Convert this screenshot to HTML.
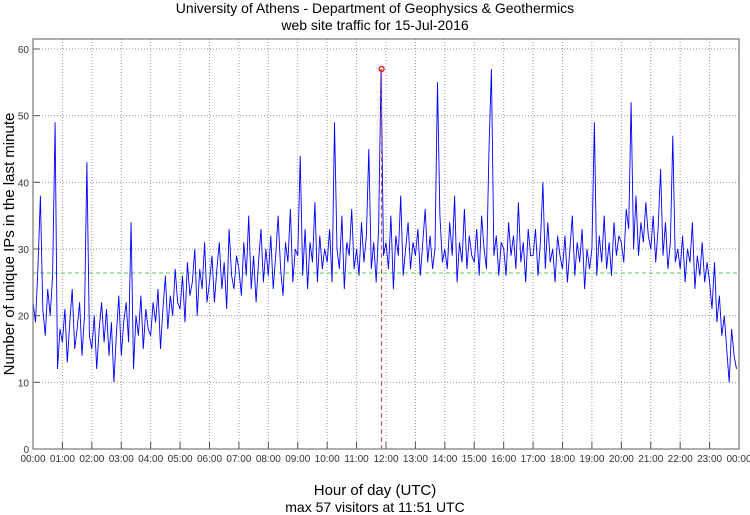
<!DOCTYPE html>
<html><head><meta charset="utf-8"><style>
body{margin:0;background:#fff;width:750px;height:515px;overflow:hidden;font-family:"Liberation Sans","DejaVu Sans",sans-serif}
svg{display:block}
</style></head><body>
<svg id="chart" width="750" height="515">
<text x="375" y="13" text-anchor="middle" font-size="14">University of Athens - Department of Geophysics &amp; Geothermics</text>
<text x="375" y="30" text-anchor="middle" font-size="14">web site traffic for 15-Jul-2016</text>
<text x="375" y="495" text-anchor="middle" font-size="15">Hour of day (UTC)</text>
<text x="375" y="512" text-anchor="middle" font-size="14">max 57 visitors at 11:51 UTC</text>
<text transform="translate(14,244) rotate(-90)" text-anchor="middle" font-size="15">Number of unique IPs in the last minute</text>
<g id="grid"></g><g id="series"></g><g id="axes"></g>
</svg>
<script>
const yTicks=[0,10,20,30,40,50,60];
const hourLabels=["00:00","01:00","02:00","03:00","04:00","05:00","06:00","07:00","08:00","09:00","10:00","11:00","12:00","13:00","14:00","15:00","16:00","17:00","18:00","19:00","20:00","21:00","22:00","23:00","00:00"];
const stepMinutes=5;
const visitors=[
22,19,27,38,21,17,24,20,26,49,12,18,
16,21,13,19,24,15,18,22,14,20,43,17,
15,20,12,18,22,16,21,14,19,10,17,23,
14,19,22,16,34,12,20,17,23,15,21,18,
17,22,19,24,15,21,26,18,23,20,27,22,
21,26,19,28,23,25,30,20,27,24,31,22,
25,29,22,27,31,24,28,21,33,26,24,29,
27,23,31,26,35,24,29,22,28,33,25,30,
26,32,24,29,35,27,23,31,28,36,25,30,
29,44,26,33,24,31,28,37,25,32,27,30,
28,33,25,49,30,27,35,24,31,29,36,27,
30,26,34,28,32,45,27,31,25,33,57,29,
31,27,35,24,32,29,38,26,30,34,27,31,
29,33,26,31,36,28,32,27,30,55,35,28,
30,27,34,29,38,25,31,28,36,27,32,29,
28,33,26,35,30,27,45,57,29,32,26,31,
30,26,34,29,32,27,37,28,31,25,33,29,
29,33,26,31,40,27,34,28,30,25,32,29,
27,32,25,30,35,26,31,28,33,24,30,27,
30,49,26,32,28,35,27,31,26,34,29,32,
31,28,36,33,52,30,38,29,34,31,37,32,
30,35,28,33,42,29,34,27,31,47,28,30,
27,32,25,30,28,34,24,29,26,31,25,28,
25,21,28,19,23,17,20,15,10,18,14,12];
const meanValue=[26.4];
const maxPoint=[711,57];
const L=33,R=739,T=39,B=449;
const xs=m=>L+m/1440*(R-L);
const ys=v=>B-v/60*(B-49);
const NS="http://www.w3.org/2000/svg";
function mk(tag,parent,attrs){const e=document.createElementNS(NS,tag);for(const k in attrs)e.setAttribute(k,attrs[k]);parent.appendChild(e);return e;}
const grid=document.getElementById('grid'),axes=document.getElementById('axes'),ser=document.getElementById('series');
hourLabels.forEach((lab,i)=>{const x=xs(i*60);
 if(i>0&&i<24){const g=mk('line',grid,{x1:x,x2:x,y1:T,y2:B,stroke:'#999','stroke-dasharray':'1,2'});
 
 }
 const t=mk('line',axes,{x1:x,x2:x,y1:B,y2:B-7,stroke:'#555'});
 
 
 const tx=mk('text',axes,{x:x,y:B+13,'text-anchor':'middle','font-size':'10',fill:'#333'});tx.textContent=lab;
 
 });
yTicks.forEach(v=>{const y=ys(v);
 if(v>0){const g=mk('line',grid,{x1:L,x2:R,y1:y,y2:y,stroke:'#999','stroke-dasharray':'1,2'});
 
 }
 const t=mk('line',axes,{x1:L,x2:L+7,y1:y,y2:y,stroke:'#555'});
 
 
 const tx=mk('text',axes,{x:L-4,y:y+4,'text-anchor':'end','font-size':'10',fill:'#333'});tx.textContent=v;
 
 });
const fr=mk('rect',axes,{x:L,y:T,width:R-L,height:B-T,fill:'none',stroke:'#777','stroke-width':1.2});


const ml=mk('line',ser,{x1:L,x2:R,y1:ys(meanValue[0]),y2:ys(meanValue[0]),stroke:'#5c5','stroke-dasharray':'4,3'});


const pts=visitors.map((v,i)=>xs(i*stepMinutes).toFixed(1)+','+ys(v).toFixed(1)).join(' ');
const pl=mk('polyline',ser,{points:pts,fill:'none',stroke:'#00f','stroke-width':0.9});


const vl=mk('line',ser,{x1:xs(maxPoint[0]),x2:xs(maxPoint[0]),y1:ys(maxPoint[1]),y2:B,stroke:'#c44','stroke-dasharray':'5,3'});


const c=mk('circle',ser,{cx:xs(maxPoint[0]),cy:ys(maxPoint[1]),r:2.5,fill:'none',stroke:'#e00','stroke-width':1.2});


</script>
</body></html>
